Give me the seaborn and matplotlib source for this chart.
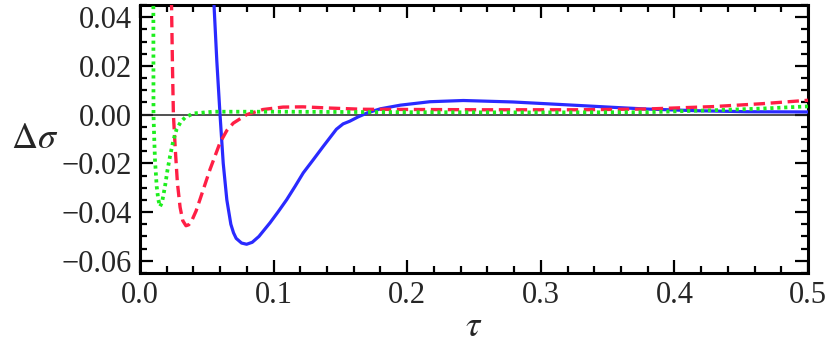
import numpy as np
import pandas as pd
import matplotlib
matplotlib.use('Agg')
import matplotlib.pyplot as plt
from matplotlib.ticker import MultipleLocator, FuncFormatter
import seaborn as sns

# values (tau, delta sigma)
tau_blue = [0.0530, 0.0554, 0.0575, 0.0599, 0.0623, 0.0650, 0.0680, 0.0700,
            0.0720, 0.0760, 0.0798, 0.0840, 0.0890, 0.0973, 0.1035, 0.1098,
            0.1160, 0.1222, 0.1297, 0.1372, 0.1470, 0.1520, 0.1570, 0.1630,
            0.1700, 0.1800, 0.1950, 0.2170, 0.2420, 0.2790, 0.3170, 0.3540,
            0.3790, 0.4170, 0.4540, 0.5000]
ds_blue = [0.0700, 0.0450, 0.0220, 0.0000, -0.0200, -0.0350, -0.0450, -0.0485,
           -0.0508, -0.0527, -0.0532, -0.0524, -0.0500, -0.0444, -0.0398, -0.0349,
           -0.0295, -0.0239, -0.0185, -0.0130, -0.0060, -0.0038, -0.0027, -0.0010,
           0.0007, 0.0024, 0.0039, 0.0053, 0.0058, 0.0052, 0.0041, 0.0030,
           0.0023, 0.0016, 0.0012, 0.0011]

tau_red = [0.0225, 0.0236, 0.0243, 0.0250, 0.0265, 0.0280, 0.0300, 0.0320,
           0.0344, 0.0365, 0.0386, 0.0420, 0.0449, 0.0524, 0.0599, 0.0650,
           0.0698, 0.0798, 0.0920, 0.1070, 0.1220, 0.1420, 0.1670, 0.2540,
           0.3290, 0.3790, 0.4290, 0.4660, 0.5000]
ds_red = [0.0700, 0.0450, 0.0200, 0.0000, -0.0150, -0.0280, -0.0380, -0.0435,
          -0.0456, -0.0452, -0.0437, -0.0395, -0.0348, -0.0225, -0.0115, -0.0065,
          -0.0035, 0.0000, 0.0021, 0.0031, 0.0032, 0.0027, 0.0022, 0.0020,
          0.0020, 0.0023, 0.0033, 0.0045, 0.0059]

tau_green = [0.0098, 0.0100, 0.0101, 0.0105, 0.0112, 0.0125, 0.0137, 0.0150,
             0.0165, 0.0187, 0.0205, 0.0225, 0.0250, 0.0274, 0.0305, 0.0337,
             0.0399, 0.0549, 0.1000, 0.2000, 0.3000, 0.3790, 0.4290, 0.4660, 0.5000]
ds_green = [0.0700, 0.0450, 0.0000, -0.0074, -0.0184, -0.0295, -0.0349, -0.0377,
            -0.0360, -0.0295, -0.0230, -0.0170, -0.0105, -0.0060, -0.0030, -0.0012,
            0.0005, 0.0012, 0.0012, 0.0010, 0.0009, 0.0010, 0.0018, 0.0025, 0.0034]

xticks = [0.0, 0.1, 0.2, 0.3, 0.4, 0.5]
yticks = [-0.06, -0.04, -0.02, 0.00, 0.02, 0.04]

sns.set_style('ticks')
plt.rcParams['font.family'] = ['Liberation Serif', 'DejaVu Serif']
plt.rcParams['mathtext.fontset'] = 'stix'

fig = plt.figure(figsize=(8.3, 3.46), dpi=100)
ax = fig.add_axes([140 / 830, 1 - 273 / 346, 668 / 830, 268 / 346])

ax.axhline(0, color='#222222', lw=1.1, zorder=1)

sns.lineplot(x=tau_blue, y=ds_blue, ax=ax, color='#2a2aff', lw=2.3,
             sort=False, zorder=3)
sns.lineplot(x=tau_red, y=ds_red, ax=ax, color='#ff1f45', lw=2.4,
             linestyle=(0, (3.4, 1.7)), sort=False, zorder=4)
sns.lineplot(x=tau_green, y=ds_green, ax=ax, color='#1eee1e', lw=2.7,
             linestyle=(0, (0.85, 1.0)), sort=False, zorder=5)

ax.set_xlim(0, 0.5)
ax.set_ylim(-0.065, 0.045)

ax.set_xticks(xticks)
ax.set_yticks(yticks)
ax.xaxis.set_minor_locator(MultipleLocator(0.02))
ax.yaxis.set_minor_locator(MultipleLocator(0.005))
ax.xaxis.set_major_formatter(FuncFormatter(lambda v, p: f'{v:.1f}'.replace('-', '\u2212')))
ax.yaxis.set_major_formatter(FuncFormatter(lambda v, p: f'{v:.2f}'.replace('-', '\u2212')))

ax.tick_params(which='both', direction='in', top=True, right=True,
               width=1.6, color='black', labelsize=22, pad=6)
ax.tick_params(which='major', length=9.5)
ax.tick_params(which='minor', length=4.8)

for s in ax.spines.values():
    s.set_linewidth(2.2)
    s.set_color('black')

ax.set_xlabel(r'$\tau$', fontsize=26, va='center')
ax.set_ylabel(r'$\Delta\sigma$', fontsize=26, rotation=0, ha='center', va='center')
ax.xaxis.set_label_coords(0.5, -0.205)
ax.yaxis.set_label_coords(-0.157, 0.5)

fig.savefig('out.png', dpi=100)
